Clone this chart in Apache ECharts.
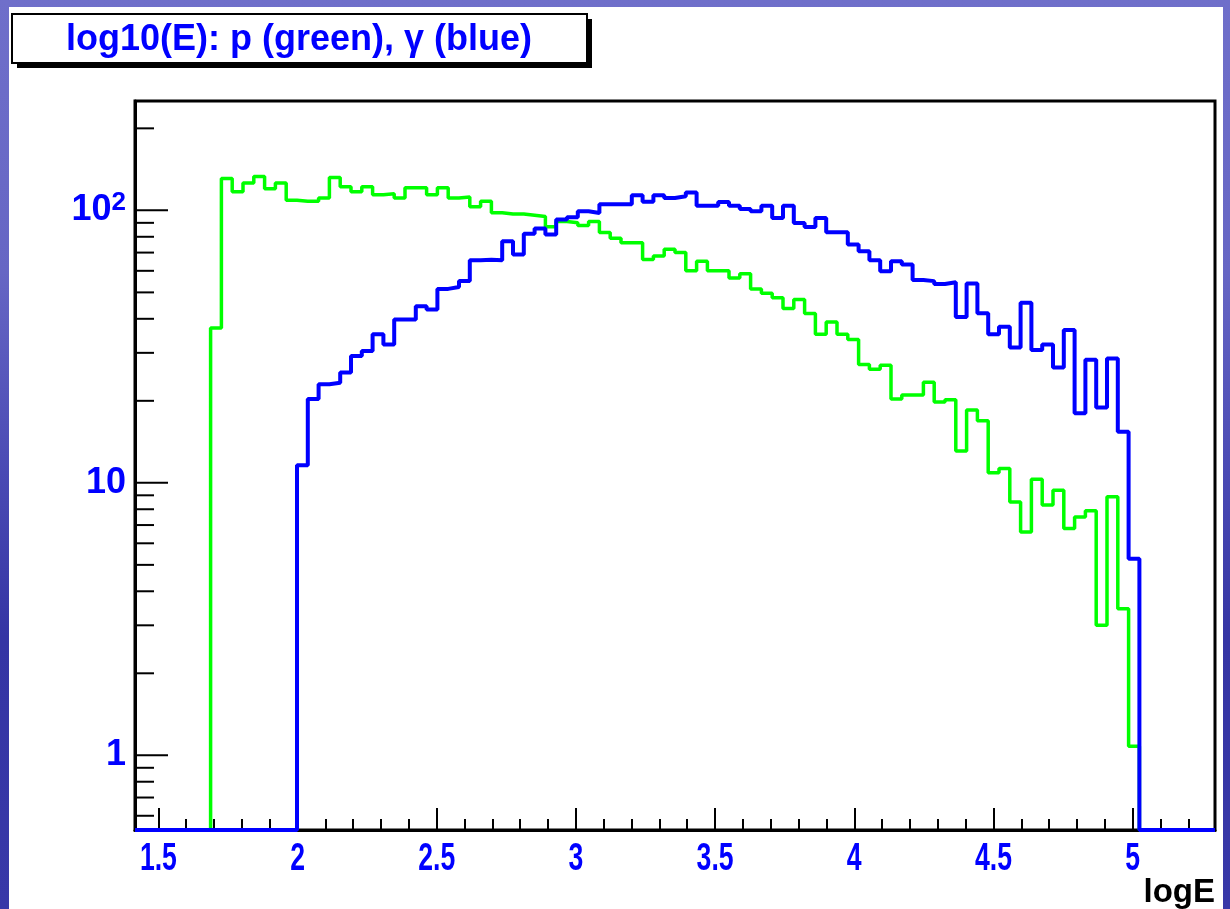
<!DOCTYPE html>
<html>
<head>
<meta charset="utf-8">
<title>log10(E)</title>
<script src="https://cdn.jsdelivr.net/npm/echarts@6/dist/echarts.min.js"></script>
<style>
html,body{margin:0;padding:0;}
body{width:1230px;height:909px;overflow:hidden;position:relative;
  background:linear-gradient(180deg,#6f6fca 0%,#6666c4 30%,#4a4ab4 52%,#3535a4 70%,#3838a8 100%);}
#paper{position:absolute;left:9px;top:7px;width:1214px;height:902px;background:#fff;}
#chart{position:absolute;left:0;top:0;width:1230px;height:909px;}
</style>
</head>
<body>
<div id="paper"></div>
<div id="chart"></div>
<script>
// histogram axis range, 100 bins
var xMin = 1.416, xMax = 5.296, nBins = 100;
var yMin = 0.532, yMax = 252;

// p (green): contents of bins 7..92
var protonStartBin = 7;
var protonCounts = [37, 131, 117, 126, 133, 120, 126, 109, 108, 108,
  111, 132, 122, 117, 122, 114, 115, 111, 121, 121,
  114, 121, 111, 112, 103, 108, 98, 97, 97, 96,
  95, 87, 91, 90, 88, 91, 83, 79, 76, 76,
  66, 68, 72, 70, 60, 65, 60, 60, 56.5, 58.5,
  51.5, 49.6, 47.8, 43.6, 47.1, 41.8, 35.1, 38.9, 35.1, 33.6,
  27.2, 26.1, 27.0, 20.3, 21.0, 21.0, 23.4, 19.8, 20.2, 13.1,
  18.5, 16.9, 10.9, 11.3, 8.5, 6.6, 10.3, 8.3, 9.4, 6.8,
  7.5, 7.9, 3.0, 8.9, 3.45, 1.08];

// gamma (blue): contents of bins 15..92
var gammaStartBin = 15;
var gammaCounts = [11.6, 20.3, 23.0, 23.3, 25.4, 29.2, 30.5, 35.1, 32.2, 39.8,
  39.8, 44.5, 43.3, 51.5, 52.3, 55.0, 65.6, 65.9, 65.6, 77.0,
  68.8, 82.0, 85.8, 81.5, 92.5, 94.4, 99.2, 97.8, 105.3, 105.3,
  105.3, 113.6, 107.6, 113.6, 111, 112.6, 116.4, 104, 104, 107.3,
  104, 101.2, 99.2, 104, 93.8, 104, 89.9, 86.9, 93.8, 83.1,
  83.1, 74.9, 70.8, 65.6, 59.8, 65.1, 63.3, 55.5, 55.0, 53.7,
  54.5, 40.6, 53.9, 41.9, 35.1, 37.4, 31.4, 45.8, 30.7, 32.2,
  26.5, 36.4, 18.0, 28.3, 18.9, 28.6, 15.4, 5.27];

// axis ticks and labels
var xTickLabels = ['1.5', '2', '2.5', '3', '3.5', '4', '4.5', '5'];
var yMajorTicks = [1, 10, 100];
var yMinorTicks = [0.6, 0.7, 0.8, 0.9, 2, 3, 4, 5, 6, 7, 8, 9,
  20, 30, 40, 50, 60, 70, 80, 90, 200];

var titleText = 'log10(E): p (green), \u03b3 (blue)';
var xTitle = 'logE';

var FONT = '"Liberation Sans", Arial, Helvetica, sans-serif';
var binWidth = (xMax - xMin) / nBins;

function binEdge(k) { return xMin + k * binWidth; }

// histogram outline, empty bins sit on the axis floor like ROOT draws them
function stepPoints(startBin, counts) {
  var pts = [[xMin, yMin], [binEdge(startBin), yMin]];
  for (var i = 0; i < counts.length; i++) {
    pts.push([binEdge(startBin + i), counts[i]]);
    pts.push([binEdge(startBin + i + 1), counts[i]]);
  }
  pts.push([binEdge(startBin + counts.length), yMin]);
  pts.push([xMax, yMin]);
  return pts;
}

var tickData = [];
yMajorTicks.forEach(function (v) { tickData.push([xMin, v, 1]); });
yMinorTicks.forEach(function (v) { tickData.push([xMin, v, 0]); });

var xLabelData = xTickLabels.map(function (s) { return [parseFloat(s), yMin]; });

var chart = echarts.init(document.getElementById('chart'), null, {renderer: 'canvas'});

var option = {
  animation: false,
  backgroundColor: 'transparent',
  grid: {
    left: 135, right: 15, top: 101, bottom: 77,
    show: true, backgroundColor: '#fff', borderColor: '#000', borderWidth: 3
  },
  xAxis: {
    type: 'value', min: xMin, max: xMax, splitNumber: 8,
    axisLine: {show: true, onZero: false, lineStyle: {color: '#000', width: 3}},
    axisTick: {show: true, inside: true, length: 22, lineStyle: {color: '#000', width: 2}},
    minorTick: {show: true, splitNumber: 5, length: 11, lineStyle: {color: '#000', width: 2}},
    splitLine: {show: false},
    axisLabel: {show: false},
    name: xTitle, nameLocation: 'end', nameGap: 0,
    nameTextStyle: {
      color: '#000', fontFamily: FONT, fontWeight: 'bold', fontSize: 33,
      align: 'right', verticalAlign: 'top', padding: [46, 0, 0, 0]
    }
  },
  yAxis: {
    type: 'log', logBase: 10, min: yMin, max: yMax,
    axisLine: {show: true, lineStyle: {color: '#000', width: 3}},
    axisTick: {show: false},
    minorTick: {show: false},
    splitLine: {show: false},
    axisLabel: {
      showMinLabel: false, showMaxLabel: false, margin: 9,
      color: '#0000ff', fontFamily: FONT, fontWeight: 'bold', fontSize: 36,
      formatter: function (v) {
        var p = Math.round(Math.log(v) / Math.LN10);
        if (p === 0) return '1';
        if (p === 1) return '10';
        return '10{sup|' + p + '}';
      },
      rich: {
        sup: {fontSize: 26, fontWeight: 'bold', color: '#0000ff', fontFamily: FONT, verticalAlign: 'top', padding: [0, 0, 16, 0]}
      }
    }
  },
  graphic: [
    {type: 'rect', x: 17, y: 19, shape: {x: 0, y: 0, width: 575, height: 49}, style: {fill: '#000'}},
    {type: 'rect', x: 12, y: 14, shape: {x: 0, y: 0, width: 575, height: 49}, style: {fill: '#fff', stroke: '#000', lineWidth: 2}},
    {type: 'text', x: 299, y: 40, style: {text: titleText, font: 'bold 36px ' + FONT, fill: '#0000ff', align: 'center', verticalAlign: 'middle'}}
  ],
  series: [
    {
      name: 'p', type: 'line', data: stepPoints(protonStartBin, protonCounts),
      symbol: 'none', clip: false, z: 3,
      lineStyle: {color: '#00ff00', width: 3.5}
    },
    {
      name: 'gamma', type: 'line', data: stepPoints(gammaStartBin, gammaCounts),
      symbol: 'none', clip: false, z: 4,
      lineStyle: {color: '#0000ff', width: 4}
    },
    {
      name: 'yticks', type: 'custom', data: tickData, clip: false, z: 5,
      renderItem: function (params, api) {
        var p = api.coord([api.value(0), api.value(1)]);
        var len = api.value(2) ? 33 : 19;
        return {
          type: 'line',
          shape: {x1: p[0], y1: p[1], x2: p[0] + len, y2: p[1]},
          style: {stroke: '#000', lineWidth: 2}
        };
      }
    },
    {
      // x tick labels: ROOT draws them tall and narrow
      name: 'xlabels', type: 'custom', data: xLabelData, clip: false, z: 5,
      renderItem: function (params, api) {
        var p = api.coord([api.value(0), api.value(1)]);
        return {
          type: 'text', x: p[0], y: p[1] + 11, scaleX: 0.7,
          style: {
            text: xTickLabels[params.dataIndex], font: 'bold 38px ' + FONT,
            fill: '#0000ff', align: 'center', verticalAlign: 'top'
          }
        };
      }
    }
  ]
};

chart.setOption(option);
</script>
</body>
</html>
